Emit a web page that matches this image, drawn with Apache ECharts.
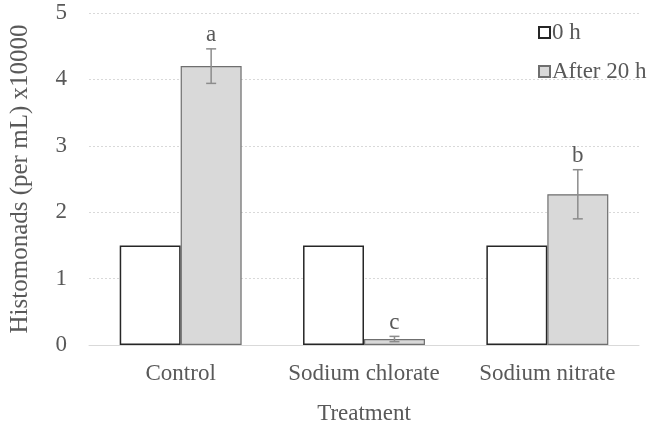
<!DOCTYPE html>
<html><head><meta charset="utf-8">
<script src="https://cdn.jsdelivr.net/npm/echarts@6/dist/echarts.min.js"></script>
<style>html,body{margin:0;padding:0;background:#fff}#c{width:650px;height:431px}</style>
</head><body><div id="c"></div>
<script>
var categories = ['Control', 'Sodium chlorate', 'Sodium nitrate'];
var seriesNames = ['0 h', 'After 20 h'];
var values0h = [1.5, 1.5, 1.5];
var values20h = [4.2, 0.09, 2.27];
var errors20h = [0.26, 0.04, 0.37];
var letters20h = ['a', 'c', 'b'];
var yTicks = [0, 1, 2, 3, 4, 5];

var font = 'Liberation Serif';
var fs = 23;
var chart = echarts.init(document.getElementById('c'));
var errData = categories.map(function (c, i) { return [i, values20h[i], errors20h[i], letters20h[i]]; });

chart.setOption({
  animation: false,
  textStyle: { fontFamily: font },
  grid: { left: 87, right: 11, top: 13, bottom: 86 },
  legend: {
    orient: 'vertical', left: 533, top: 16, itemWidth: 11, itemHeight: 11, itemGap: 16,
    icon: 'rect',
    textStyle: { fontFamily: font, fontSize: fs, color: '#595959', padding: [0, 0, 0, -3] },
    data: seriesNames
  },
  xAxis: {
    type: 'category', data: categories,
    name: 'Treatment', nameLocation: 'middle', nameGap: 57,
    nameTextStyle: { fontFamily: font, fontSize: fs, color: '#595959' },
    axisLine: { lineStyle: { color: '#d9d9d9', width: 1 } },
    axisTick: { show: false },
    axisLabel: { interval: 0, hideOverlap: false, fontFamily: font, fontSize: fs, color: '#595959', margin: 17 }
  },
  yAxis: {
    type: 'value', min: yTicks[0], max: yTicks[yTicks.length - 1], interval: 1,
    name: 'Histomonads (per mL) x10000', nameLocation: 'middle', nameGap: 56,
    nameTextStyle: { fontFamily: font, fontSize: 25, color: '#595959' },
    axisLine: { show: false }, axisTick: { show: false },
    axisLabel: { fontFamily: font, fontSize: fs, color: '#595959', margin: 22 },
    splitLine: { lineStyle: { color: '#d9d9d9', type: [2, 2], width: 1 } }
  },
  series: [
    {
      name: seriesNames[0], type: 'bar', data: values0h, barGap: '0%', barCategoryGap: '33.5%',
      itemStyle: { color: '#ffffff', borderColor: '#262626', borderWidth: 1.5 }
    },
    {
      name: seriesNames[1], type: 'bar', data: values20h, barGap: '0%', barCategoryGap: '33.5%',
      itemStyle: { color: '#d9d9d9', borderColor: '#6f6f6f', borderWidth: 1.2 }
    },
    {
      type: 'custom', name: 'err', data: errData, z: 10, legendHoverLink: false,
      renderItem: function (params, api) {
        var i = api.value(0), v = api.value(1), e = api.value(2);
        var size = api.size([1, 0]);
        var bw = size[0] * (1 - 0.335) / 2;
        var center = api.coord([i, v]);
        var x = center[0] + bw / 2;
        var top = api.coord([i, v + e])[1];
        var bot = api.coord([i, v - e])[1];
        var cap = 5;
        var st = { stroke: '#8c8c8c', lineWidth: 1.5 };
        return {
          type: 'group',
          children: [
            { type: 'line', shape: { x1: x, y1: top, x2: x, y2: bot }, style: st },
            { type: 'line', shape: { x1: x - cap, y1: top, x2: x + cap, y2: top }, style: st },
            { type: 'line', shape: { x1: x - cap, y1: bot, x2: x + cap, y2: bot }, style: st },
            { type: 'text', x: x, y: top - 2, style: { text: letters20h[i], font: '23px "Liberation Serif"', fill: '#595959', align: 'center', verticalAlign: 'bottom' } }
          ]
        };
      }
    }
  ]
});
</script></body></html>
